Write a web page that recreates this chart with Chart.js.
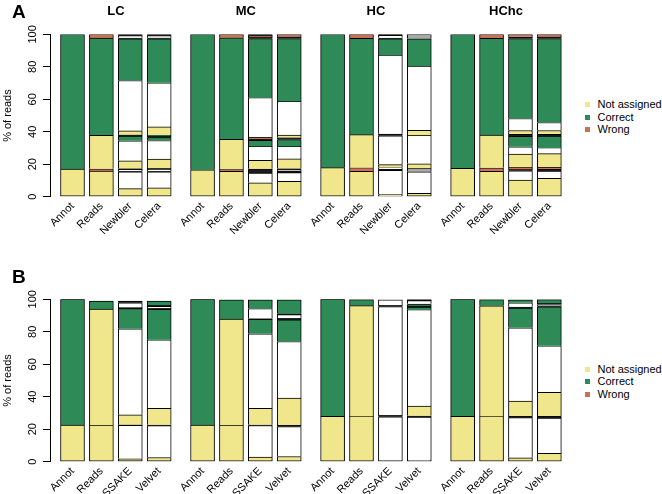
<!DOCTYPE html>
<html><head><meta charset="utf-8">
<script src="https://cdn.jsdelivr.net/npm/chart.js@4/dist/chart.umd.min.js"></script>
<style>
body{margin:0;background:#fff;}
#wrap{position:relative;width:662px;height:494px;font-family:"Liberation Sans",Arial,Helvetica,sans-serif;background:#fff;overflow:hidden;}
canvas{position:absolute;left:0;}
.panel{position:absolute;left:12px;font-weight:bold;font-size:19px;line-height:19px;color:#000;}
.leg{position:absolute;left:585px;height:13px;font-size:11px;line-height:13px;color:#000;white-space:nowrap;}
.leg span.sq{position:absolute;left:0;top:4px;width:5px;height:5px;}
.leg span.tx{position:absolute;left:12.5px;top:0;}
</style></head><body>
<div id="wrap">
<canvas id="cA" width="575" height="247" style="top:0"></canvas>
<canvas id="cB" width="575" height="247" style="top:247px"></canvas>
<div class="panel" style="top:2px">A</div>
<div class="panel" style="top:267px">B</div>
</div>
<script>
// ---- categories / labels ----
const groupNames = ['LC', 'MC', 'HC', 'HChc'];
const barNamesA = ['Annot', 'Reads', 'Newbler', 'Celera'];
const barNamesB = ['Annot', 'Reads', 'SSAKE', 'Velvet'];
const seriesNames = ['Not assigned', 'Correct', 'Wrong'];
const yTicks = [0, 20, 40, 60, 80, 100];
// segment keys: Y = not assigned, G = correct, W = wrong, E = unlabelled (white), K = thin dark bands, S = grey bands
// ---- panel A: stacked segments (bottom to top), % of reads ----
const A_LC_Annot = [['Y',17],['G',83]];
const A_LC_Reads = [['Y',15.8],['W',1.4],['Y',20.6],['G',60],['W',2.2]];
const A_LC_Newbler = [['Y',5],['E',10.3],['K',0.6],['E',0.8],['K',0.7],['Y',4.7],['E',12.4],['G',2.9],['K',0.8],['Y',2.4],['E',31],['G',25.7],['K',0.6],['E',1.3],['K',0.8]];
const A_LC_Celera = [['Y',5.5],['E',9.8],['K',0.7],['E',0.8],['K',0.7],['Y',5.7],['E',11.4],['G',1.9],['K',0.8],['G',0.7],['Y',5],['E',27.2],['G',27.1],['K',0.7],['E',1.2],['K',0.8]];
const A_MC_Annot = [['Y',16.6],['G',83.4]];
const A_MC_Reads = [['Y',15.6],['W',1.2],['Y',18.5],['G',62.6],['W',2.1]];
const A_MC_Newbler = [['Y',8.6],['E',6],['K',2.6],['Y',5.2],['E',8.6],['G',3.8],['K',0.7],['W',1.1],['E',24.4],['G',36.4],['K',0.8],['W',1],['K',0.8]];
const A_MC_Celera = [['Y',9.4],['E',5.4],['K',1],['E',0.6],['K',1],['Y',5.9],['E',7.7],['G',4.2],['K',1.3],['Y',1.4],['E',20.8],['G',38.7],['K',1.2],['W',1.4]];
const A_HC_Annot = [['Y',17.9],['G',82.1]];
const A_HC_Reads = [['Y',15.7],['W',2.2],['Y',20.3],['G',59.4],['W',2.4]];
const A_HC_Newbler = [['Y',1.3],['E',14.9],['K',0.8],['E',1],['Y',1.8],['E',17.7],['K',1.3],['E',48.4],['G',10.1],['K',0.6],['E',1.5],['K',0.6]];
const A_HC_Celera = [['Y',2],['E',13.3],['S',2.3],['Y',2.7],['E',17.5],['Y',3.1],['E',39.6],['G',16.8],['S',2.7]];
const A_HChc_Annot = [['Y',17.5],['G',82.5]];
const A_HChc_Reads = [['Y',15.7],['W',2.1],['Y',20.2],['G',59.6],['W',2.4]];
const A_HChc_Newbler = [['Y',10.3],['E',5.7],['K',1],['W',1.2],['Y',8.1],['E',4.5],['G',6.4],['K',1.4],['Y',2.2],['E',7.4],['G',49.2],['K',1.1],['W',1.5]];
const A_HChc_Celera = [['Y',11.3],['E',4.5],['K',1.2],['W',1.3],['Y',8.2],['E',3.7],['G',7.1],['K',1.3],['Y',2.2],['E',4.9],['G',51.7],['K',1.2],['W',1.4]];
// ---- panel B ----
const B_LC_Annot = [['Y',22.6],['G',77.4]];
const B_LC_Reads = [['Y',22.6],['Y',71.4],['G',4.9]];
const B_LC_SSAKE = [['Y',1.8],['E',20.6],['K',0.4],['Y',6.1],['E',52.9],['G',12.5],['K',0.7],['E',2.8],['K',1.1]];
const B_LC_Velvet = [['Y',2.6],['E',19.6],['K',0.5],['Y',10.2],['E',42.2],['G',18.7],['K',0.7],['E',1.1],['K',0.8],['G',2.5]];
const B_MC_Annot = [['Y',22.6],['G',77.4]];
const B_MC_Reads = [['Y',22.6],['Y',65.2],['G',11.8]];
const B_MC_SSAKE = [['Y',2.8],['E',19.5],['K',0.4],['Y',10.1],['E',46],['G',8.8],['K',0.6],['E',6.1],['G',5.3]];
const B_MC_Velvet = [['Y',3.2],['E',18.4],['K',1],['Y',16.5],['E',34.9],['G',13.3],['K',1.1],['E',2.2],['K',0.6],['G',8.4]];
const B_HC_Annot = [['Y',27.9],['G',72.1]];
const B_HC_Reads = [['Y',27.9],['Y',68.2],['G',3.7]];
const B_HC_SSAKE = [['E',27.7],['K',0.9],['E',66.9],['K',0.9],['E',3.2]];
const B_HC_Velvet = [['K',0.8],['E',26.7],['K',0.8],['Y',5.9],['E',59.4],['G',1.6],['K',0.6],['G',0.8],['K',0.6],['E',2],['K',0.6]];
const B_HChc_Annot = [['Y',27.9],['G',72.1]];
const B_HChc_Reads = [['Y',27.9],['Y',68.1],['G',3.8]];
const B_HChc_SSAKE = [['Y',2.4],['E',24.7],['K',1],['Y',9.2],['E',45.2],['G',12.1],['K',0.8],['E',2.5],['G',1.8]];
const B_HChc_Velvet = [['Y',5.1],['E',21.7],['K',1.3],['Y',14.6],['E',28.7],['G',24],['K',0.8],['E',0.6],['K',0.7],['G',2.3]];

const barsA = [A_LC_Annot,A_LC_Reads,A_LC_Newbler,A_LC_Celera, A_MC_Annot,A_MC_Reads,A_MC_Newbler,A_MC_Celera,
               A_HC_Annot,A_HC_Reads,A_HC_Newbler,A_HC_Celera, A_HChc_Annot,A_HChc_Reads,A_HChc_Newbler,A_HChc_Celera];
const barsB = [B_LC_Annot,B_LC_Reads,B_LC_SSAKE,B_LC_Velvet, B_MC_Annot,B_MC_Reads,B_MC_SSAKE,B_MC_Velvet,
               B_HC_Annot,B_HC_Reads,B_HC_SSAKE,B_HC_Velvet, B_HChc_Annot,B_HChc_Reads,B_HChc_SSAKE,B_HChc_Velvet];

// ---- styling ----
const COLORS = {Y:'#F0E68C', G:'#2E8B57', W:'#CD7054', E:'#FFFFFF', K:'#1A1A1A', S:'#A8A8A8'};
const KEY_LABEL = {Y:'Not assigned', G:'Correct', W:'Wrong', E:'', K:'', S:''};
const FONT = '"Liberation Sans", Arial, Helvetica, sans-serif';
const GROUP_STEP = 4.5;   // gap between groups, in bar slots
const PX_PER_SLOT = 28.9;
const X_MIN = -(72.5 - 50) / PX_PER_SLOT;
const X_MAX = X_MIN + (575 - 50) / PX_PER_SLOT;

function slotPos(i) { return Math.floor(i / 4) * GROUP_STEP + (i % 4); }

function buildDatasets(bars) {
  const order = ['Y','G','W','E','K','S'];
  const sets = {};
  order.forEach(k => sets[k] = []);
  bars.forEach((segs, i) => {
    const x = slotPos(i);
    let base = 0;
    segs.forEach(([k, h], j) => {
      sets[k].push({x: x, y: [base, base + h], first: j === 0});
      base += h;
    });
  });
  return order.filter(k => sets[k].length).map(k => ({
    label: KEY_LABEL[k],
    data: sets[k],
    backgroundColor: COLORS[k],
    borderColor: '#000',
    borderWidth: 1,
    borderSkipped: ctx => (ctx.raw && ctx.raw.first) ? false : 'start',
    barThickness: 24,
    grouped: false
  }));
}

const groupTitles = {
  id: 'groupTitles',
  afterDraw(chart, args, opts) {
    if (!opts || !opts.show) return;
    const ctx = chart.ctx, xs = chart.scales.x;
    ctx.save();
    ctx.font = 'bold 13px ' + FONT;
    ctx.fillStyle = '#000';
    ctx.textAlign = 'center';
    ctx.textBaseline = 'alphabetic';
    groupNames.forEach((g, i) => ctx.fillText(g, xs.getPixelForValue(i * GROUP_STEP + 1.5), opts.y));
    ctx.restore();
  }
};

function makeChart(id, bars, barNames, padTop, xHeight, showTitles) {
  const positions = bars.map((b, i) => slotPos(i));
  const labels = bars.map((b, i) => barNames[i % 4]);
  return new Chart(document.getElementById(id), {
    type: 'bar',
    data: { datasets: buildDatasets(bars) },
    options: {
      responsive: false,
      animation: false,
      devicePixelRatio: 1,
      layout: { padding: { top: padTop, left: 0, right: 0, bottom: 0 } },
      plugins: {
        legend: { display: false },
        tooltip: { enabled: false },
        groupTitles: { show: showTitles, y: 14.5 }
      },
      scales: {
        x: {
          type: 'linear',
          min: X_MIN, max: X_MAX,
          bounds: 'data',
          offset: false,
          grid: { display: false, drawTicks: false },
          border: { display: false },
          afterBuildTicks: s => { s.ticks = positions.map(v => ({ value: v })); },
          afterFit: s => { s.height = xHeight; },
          ticks: {
            autoSkip: false,
            minRotation: 45, maxRotation: 45,
            padding: 3,
            color: '#000',
            font: { family: FONT, size: 11 },
            callback: (v, i) => labels[i]
          }
        },
        y: {
          type: 'linear',
          min: 0, max: 100,
          afterFit: s => { s.width = 50; },
          afterBuildTicks: s => { s.ticks = yTicks.map(v => ({ value: v })); },
          grid: { display: true, drawOnChartArea: false, drawTicks: true, tickLength: 7, color: '#000', lineWidth: 1 },
          border: { display: true, color: '#000', width: 1 },
          ticks: {
            minRotation: 90, maxRotation: 90,
            crossAlign: 'center',
            padding: 1.3,
            color: '#000',
            font: { family: FONT, size: 11 }
          },
          title: {
            display: true, text: '% of reads', color: '#000',
            font: { family: FONT, size: 11 },
            padding: { top: 1, bottom: 0 }
          }
        }
      }
    },
    plugins: [groupTitles]
  });
}

makeChart('cA', barsA, barNamesA, 34.4, 50.3, true);
makeChart('cB', barsB, barNamesB, 52.3, 32.3, false);

// legends (HTML, built from series names)
const wrap = document.getElementById('wrap');
const legKeys = ['Y', 'G', 'W'];
[[97.8, 0], [362.5, 0]].forEach(([top]) => {
  seriesNames.forEach((name, i) => {
    const d = document.createElement('div');
    d.className = 'leg';
    d.style.top = (top + i * 12.8) + 'px';
    d.innerHTML = '<span class="sq" style="background:' + COLORS[legKeys[i]] + '"></span><span class="tx"></span>';
    d.querySelector('.tx').textContent = name;
    wrap.appendChild(d);
  });
});
</script>
</body></html>
